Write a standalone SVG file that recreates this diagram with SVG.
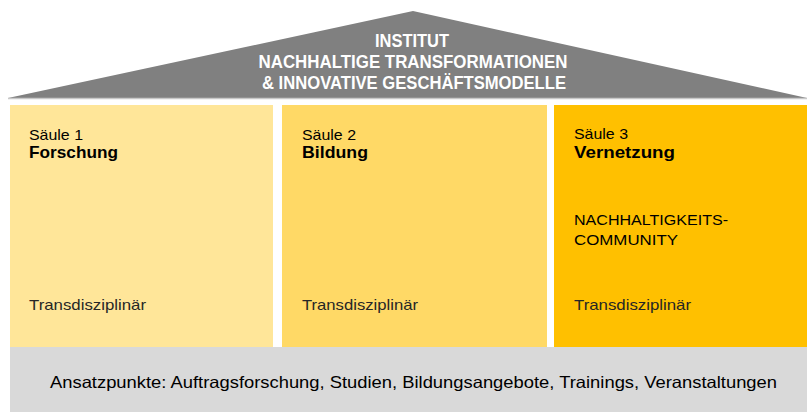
<svg xmlns="http://www.w3.org/2000/svg" width="807" height="412" viewBox="0 0 807 412">
<style>
text{font-family:"Liberation Sans Narrow","Liberation Sans",Arial,sans-serif;}
.roof{fill:#ffffff;font-weight:bold;font-size:18px;text-anchor:middle;}
.lbl{fill:#000000;font-size:15px;}
.ttl{fill:#000000;font-size:17px;font-weight:bold;}
.sm{fill:#262626;font-size:15px;}
.base{fill:#000000;font-size:16.5px;}
</style>
<rect width="807" height="412" fill="#ffffff"/>
<g id="roof">
<polygon points="8,98 413,11 807,98" fill="#808080"/>
<line x1="8" y1="98.5" x2="807" y2="98.5" stroke="#c8c8c8" stroke-width="1.5"/>
<text class="roof" x="412" y="47" textLength="74" lengthAdjust="spacingAndGlyphs">INSTITUT</text>
<text class="roof" x="413" y="68" textLength="309" lengthAdjust="spacingAndGlyphs">NACHHALTIGE TRANSFORMATIONEN</text>
<text class="roof" x="414" y="89" textLength="304" lengthAdjust="spacingAndGlyphs">&amp; INNOVATIVE GESCHÄFTSMODELLE</text>
</g>
<g id="saeule1">
<rect x="10" y="105" width="263" height="242" fill="#FFE699"/>
<text class="lbl" x="29" y="140" textLength="54" lengthAdjust="spacingAndGlyphs">Säule 1</text>
<text class="ttl" x="29" y="158" textLength="89" lengthAdjust="spacingAndGlyphs">Forschung</text>
<text class="sm" x="29" y="310" textLength="117" lengthAdjust="spacingAndGlyphs">Transdisziplinär</text>
</g>
<g id="saeule2">
<rect x="282" y="105" width="265" height="242" fill="#FFD966"/>
<text class="lbl" x="302" y="140" textLength="54" lengthAdjust="spacingAndGlyphs">Säule 2</text>
<text class="ttl" x="302" y="158" textLength="66" lengthAdjust="spacingAndGlyphs">Bildung</text>
<text class="sm" x="302" y="310" textLength="116" lengthAdjust="spacingAndGlyphs">Transdisziplinär</text>
</g>
<g id="saeule3">
<rect x="554" y="105" width="253" height="242" fill="#FFC000"/>
<text class="lbl" x="574" y="139" textLength="54" lengthAdjust="spacingAndGlyphs">Säule 3</text>
<text class="ttl" x="574" y="158" textLength="101" lengthAdjust="spacingAndGlyphs">Vernetzung</text>
<text class="lbl" x="574" y="225" textLength="154" lengthAdjust="spacingAndGlyphs">NACHHALTIGKEITS-</text>
<text class="lbl" x="574" y="245" textLength="104" lengthAdjust="spacingAndGlyphs">COMMUNITY</text>
<text class="sm" x="574" y="310" textLength="117" lengthAdjust="spacingAndGlyphs">Transdisziplinär</text>
</g>
<g id="fundament">
<rect x="10" y="347" width="797" height="65" fill="#D9D9D9"/>
<text class="base" x="50" y="388" textLength="727" lengthAdjust="spacingAndGlyphs">Ansatzpunkte: Auftragsforschung, Studien, Bildungsangebote, Trainings, Veranstaltungen</text>
</g>
<g id="connectors"/>
</svg>
